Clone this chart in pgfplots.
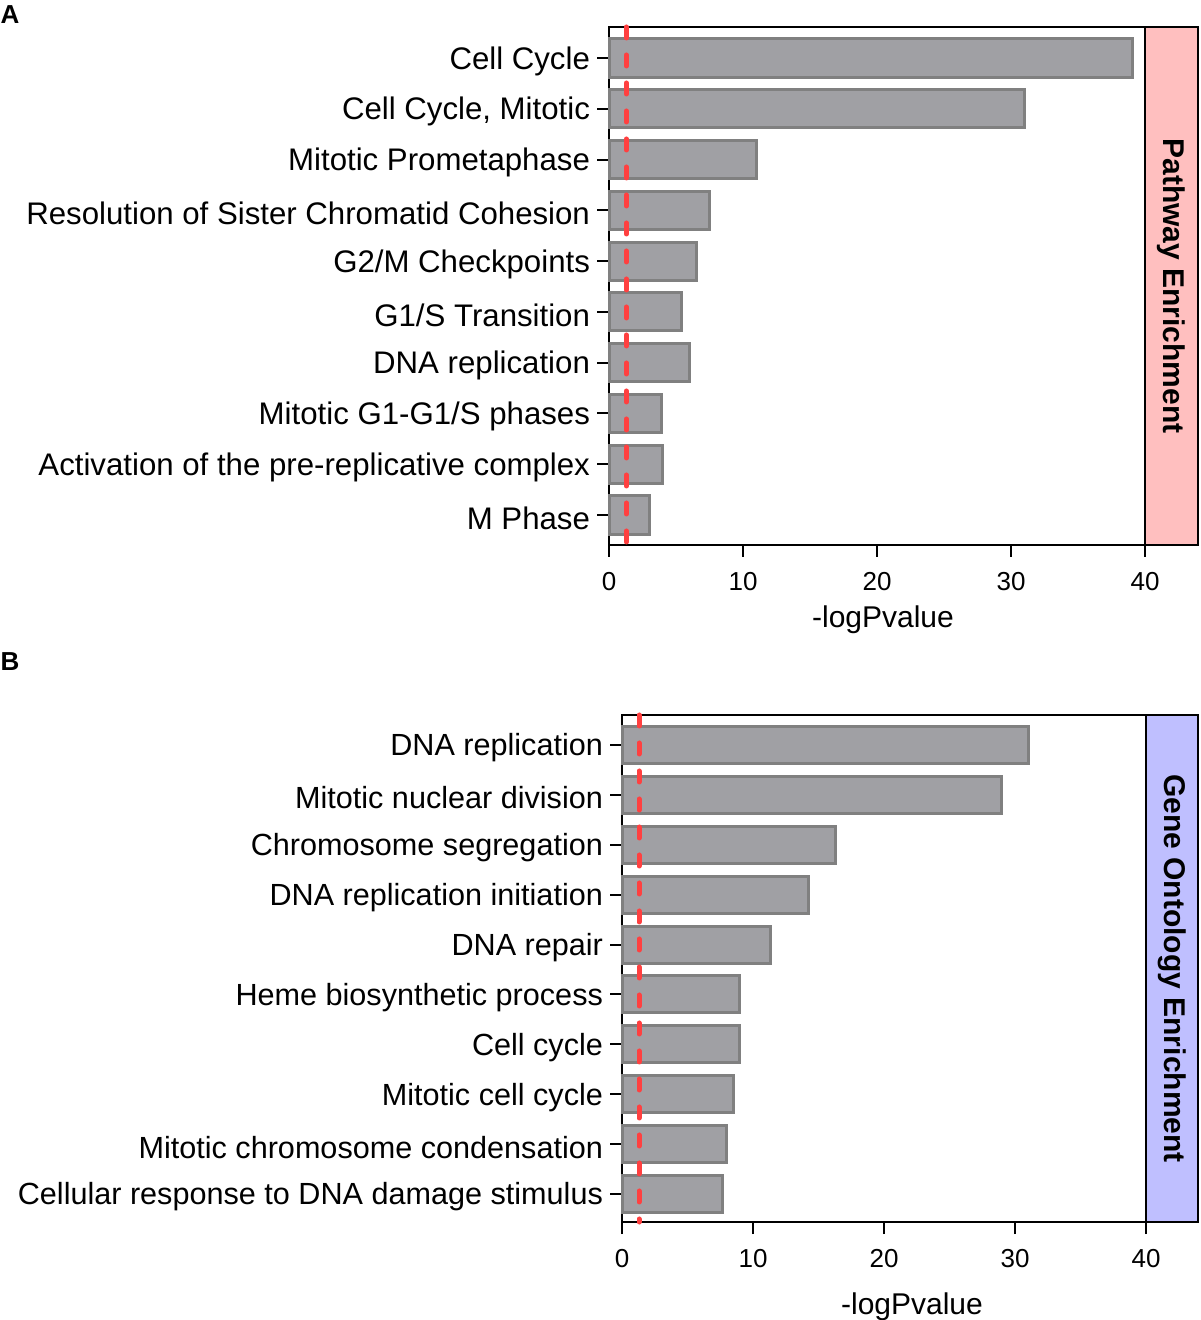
\documentclass[border=0pt]{standalone}
\usepackage{pgfplots}
\pgfplotsset{compat=1.18}
\usepackage{fontspec}
\setmainfont{Liberation Sans}
\definecolor{barfill}{HTML}{A0A0A4}
\definecolor{bardraw}{HTML}{808080}
\definecolor{refred}{HTML}{FF4040}
\definecolor{stripA}{HTML}{FFBFBF}
\definecolor{stripB}{HTML}{BFBFFF}
\pgfplotsset{
  panel/.style={
    scale only axis,
    xbar,
    xmin=0, xmax=40,
    xtick={0,10,20,30,40},
    xtick pos=bottom,
    ytick pos=left,
    y dir=reverse,
    ytick={0,...,9},
    tick align=outside,
    major tick length=6pt,
    tick style={black, line width=1pt},
    axis line style={black, line width=1pt},
    /pgf/number format/assume math mode=true,
    x tick label style={font=\fontsize{13}{15}\selectfont, yshift=-4pt},
    y tick label style={yshift=-1.5pt},
    xlabel style={font=\fontsize{15}{18}\selectfont},
    anchor=south west,
    clip=false,
  },
  barstyle/.style={fill=barfill, draw=bardraw, line width=1.5pt},
  redline/.style={sharp plot, refred, line width=2.5pt, dash pattern=on 5.5pt off 8.5pt, line cap=round, forget plot},
}
\begin{document}
\begin{tikzpicture}
\useasboundingbox (0,0) rectangle (600pt,660pt);
% Panel A
\begin{axis}[panel,
  name=A,
  at={(304.5pt,387.5pt)},
  width=268pt, height=259pt,
  ymin=-0.61, ymax=9.59,
  bar width=0.75,
  y tick label style={font=\fontsize{15.6}{18}\selectfont},
  yticklabels={Cell Cycle, {Cell Cycle, Mitotic}, Mitotic Prometaphase, Resolution of Sister Chromatid Cohesion, G2/M Checkpoints, G1/S Transition, DNA replication, Mitotic G1-G1/S phases, Activation of the pre-replicative complex, M Phase},
  xlabel={-logPvalue},
  xlabel style={yshift=-1pt, xshift=3pt},
]
\addplot[barstyle] coordinates {(39.1,0) (31.0,1) (11.0,2) (7.5,3) (6.5,4) (5.4,5) (6.0,6) (3.9,7) (4.0,8) (3.0,9)};
\addplot[redline] coordinates {(1.3,-0.61) (1.3,9.59)};
\end{axis}
\draw[fill=stripA, draw=black, line width=1pt] (A.north east) rectangle ++(26.5pt,-259pt);
\node[rotate=-90, font=\fontsize{15}{18}\selectfont\bfseries] at ([xshift=13pt]A.east) {Pathway Enrichment};
\node[font=\fontsize{13}{15}\selectfont\bfseries] at (5pt,652.5pt) {A};
% Panel B
\begin{axis}[panel,
  name=B,
  at={(311pt,49pt)},
  width=262pt, height=253.5pt,
  ymin=-0.6, ymax=9.56,
  bar width=0.74,
  y tick label style={font=\fontsize{15.3}{18}\selectfont},
  yticklabels={DNA replication, Mitotic nuclear division, Chromosome segregation, DNA replication initiation, DNA repair, Heme biosynthetic process, Cell cycle, Mitotic cell cycle, Mitotic chromosome condensation, Cellular response to DNA damage stimulus},
  xlabel={-logPvalue},
  xlabel style={yshift=-6pt, xshift=14pt},
]
\addplot[barstyle] coordinates {(31.0,0) (29.0,1) (16.3,2) (14.2,3) (11.3,4) (9.0,5) (9.0,6) (8.5,7) (8.0,8) (7.7,9)};
\addplot[redline] coordinates {(1.3,-0.6) (1.3,9.56)};
\end{axis}
\draw[fill=stripB, draw=black, line width=1pt] (B.north east) rectangle ++(26pt,-253.5pt);
\node[rotate=-90, font=\fontsize{15}{18}\selectfont\bfseries] at ([xshift=13pt]B.east) {Gene Ontology Enrichment};
\node[font=\fontsize{13}{15}\selectfont\bfseries] at (5pt,329pt) {B};
\end{tikzpicture}
\end{document}
